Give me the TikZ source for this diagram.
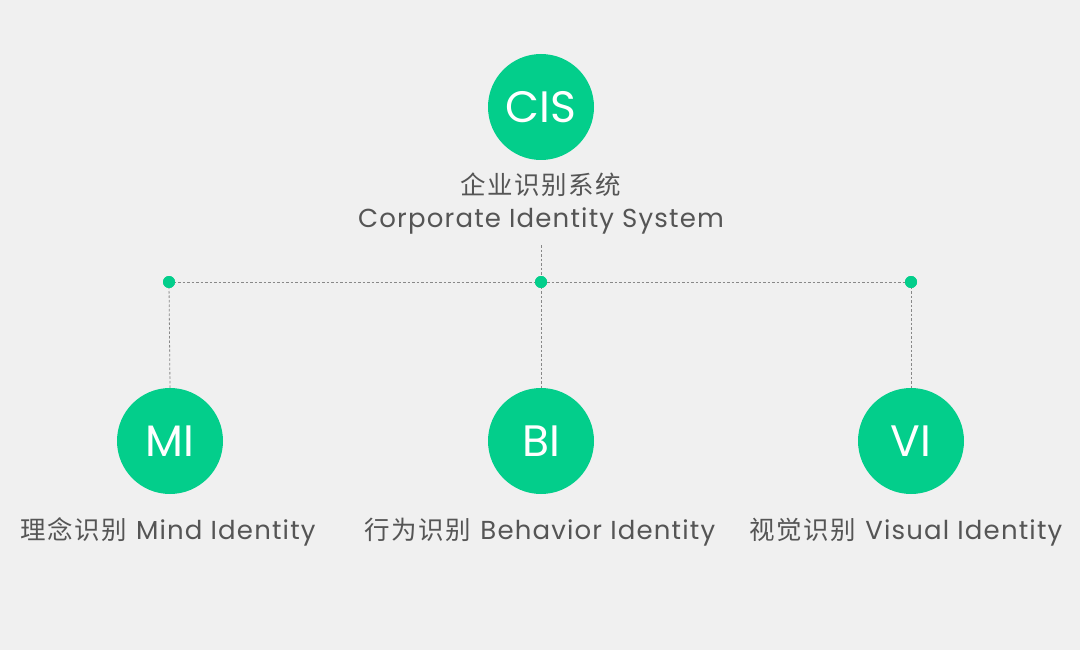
\documentclass[tikz,border=0pt]{standalone}
\usepackage{fontspec}
\setmainfont{Poppins}[LetterSpace=4]
\newfontfamily\latinfont{Poppins}[LetterSpace=4.5]
\newfontfamily\circfont{Poppins}
\newfontfamily\cjk{Noto Sans CJK SC}[LetterSpace=6]
\definecolor{bg}{HTML}{F0F0F0}
\definecolor{grn}{HTML}{03CE8B}
\definecolor{txt}{HTML}{555555}
\definecolor{ln}{HTML}{888888}
\newcommand{\zh}[1]{{\cjk\fontsize{25.5}{25.5}\selectfont #1}}
\newcommand{\en}[1]{{\latinfont\fontsize{26}{26}\selectfont #1}}
\begin{document}
\begin{tikzpicture}[x=1pt,y=-1pt,
  bigc/.style={circle,fill=grn,minimum size=106pt,inner sep=0pt,text=white,font=\circfont\fontsize{44}{44}\selectfont},
  dotn/.style={circle,fill=grn,minimum size=12pt,inner sep=0pt},
  conn/.style={draw=ln,line width=0.8pt,dash pattern=on 2.5pt off 2pt},
  lbl/.style={text=txt,inner sep=0pt,anchor=base}]
\fill[bg] (0,0) rectangle (1080,650);
\useasboundingbox (0,0) rectangle (1080,650);
\coordinate (top) at (541,245);
\node[dotn] (d1) at (169,282) {};
\node[dotn] (d2) at (541,282) {};
\node[dotn] (d3) at (911,282) {};
\node[bigc] (cis) at (541,107) {CIS};
\node[bigc] (mi) at (170,441) {MI};
\node[bigc] (bi) at (541,441) {BI};
\node[bigc] (vi) at (911,441) {VI};
\draw[conn] (top) -- (d2.center);
\draw[conn] (d1.center) -- (d3.center);
\draw[conn] (d1.center) -- (mi.north);
\draw[conn] (d2.center) -- (bi.north);
\draw[conn] (d3.center) -- (vi.north);
\node[dotn] at (d1) {};
\node[dotn] at (d2) {};
\node[dotn] at (d3) {};
\node[lbl] (cisz) at (541,195) {\zh{企业识别系统}};
\node[lbl] (cise) at (541,228) {\en{Corporate Identity System}};
\node[lbl] (mil) at (168,539) {\zh{理念识别}\hspace{9pt}\en{Mind Identity}};
\node[lbl] (bil) at (540,539) {\zh{行为识别}\hspace{9pt}\en{Behavior Identity}};
\node[lbl] (vil) at (906,539) {\zh{视觉识别}\hspace{9pt}\en{Visual Identity}};
\end{tikzpicture}
\end{document}
